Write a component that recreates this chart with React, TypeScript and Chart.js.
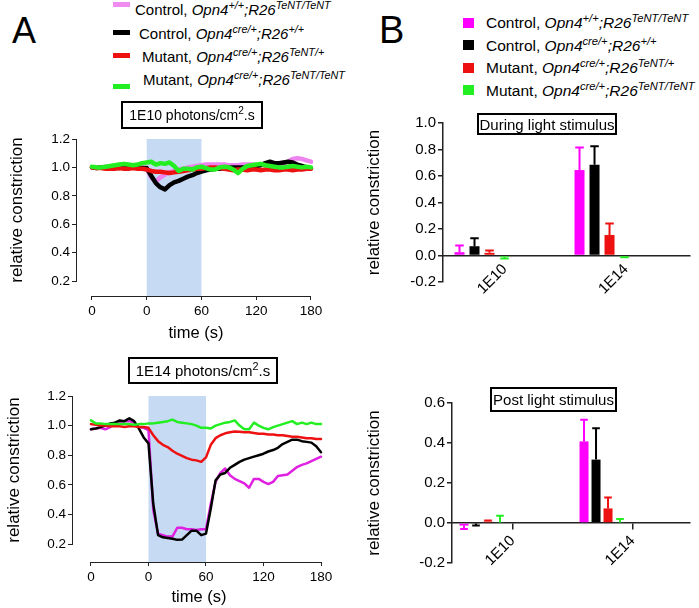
import React, { useEffect, useRef } from "react";
import { Chart, registerables } from "chart.js";

Chart.register(...registerables);

const FONT = "'Liberation Sans', Arial, Helvetica, sans-serif";
Chart.defaults.font.family = FONT;
Chart.defaults.color = "#000";

// ---------------- DATA ----------------
const seriesNames = [
  "Control, Opn4+/+;R26TeNT/TeNT",
  "Control, Opn4cre/+;R26+/+",
  "Mutant, Opn4cre/+;R26TeNT/+",
  "Mutant, Opn4cre/+;R26TeNT/TeNT",
];

const timeSec = [-60, -55, -50, -45, -40, -35, -30, -25, -20, -15, -10, -5, 0, 5, 10, 15, 20, 25, 30, 35, 40, 45, 50, 55, 60, 65, 70, 75, 80, 85, 90, 95, 100, 105, 110, 115, 120, 125, 130, 135, 140, 145, 150, 155, 160, 165, 170, 175, 180];

// 1E10 photons/cm2.s
const dim_ctrlWT = [1.0, 1.0, 1.0, 1.005, 1.0, 1.0, 1.005, 1.0, 1.0, 1.0, 1.0, 1.0, 0.99, 0.93, 0.9, 0.93, 0.95, 0.965, 0.975, 0.985, 0.99, 1.0, 1.005, 1.01, 1.015, 1.02, 1.02, 1.02, 1.02, 1.02, 1.015, 1.015, 1.015, 1.02, 1.02, 1.02, 1.015, 1.02, 1.025, 1.03, 1.03, 1.025, 1.03, 1.04, 1.06, 1.065, 1.06, 1.05, 1.04];
const dim_ctrlCre = [1.0, 0.995, 1.0, 1.0, 1.005, 1.0, 0.995, 1.0, 1.0, 1.0, 0.995, 0.995, 0.995, 0.94, 0.89, 0.86, 0.845, 0.875, 0.895, 0.905, 0.92, 0.935, 0.945, 0.96, 0.97, 0.98, 0.985, 0.99, 0.99, 0.995, 1.0, 1.0, 1.0, 1.0, 1.0, 1.005, 1.01, 1.015, 1.03, 1.04, 1.03, 1.03, 1.035, 1.04, 1.035, 1.02, 1.01, 1.0, 0.995];
const dim_mutHet = [1.0, 0.995, 0.995, 0.99, 0.99, 0.99, 0.995, 0.99, 0.99, 0.995, 0.99, 0.99, 0.985, 0.975, 0.97, 0.97, 0.965, 0.96, 0.965, 0.97, 0.975, 0.98, 0.985, 0.99, 0.99, 0.995, 1.0, 1.0, 0.995, 0.99, 0.985, 0.98, 0.985, 0.985, 0.98, 0.985, 0.985, 0.98, 0.985, 0.985, 0.98, 0.98, 0.985, 0.985, 0.98, 0.985, 0.985, 0.99, 0.99];
const dim_mutHom = [1.005, 1.0, 1.0, 1.005, 1.01, 1.015, 1.02, 1.025, 1.02, 1.015, 1.02, 1.03, 1.035, 1.04, 1.02, 1.03, 1.025, 1.035, 1.01, 0.975, 0.99, 0.99, 0.985, 1.0, 1.005, 0.995, 0.985, 0.985, 1.0, 1.005, 1.0, 0.985, 0.96, 0.99, 1.01, 1.015, 1.02, 1.025, 1.015, 1.01, 1.005, 1.0, 1.0, 1.005, 1.01, 1.005, 1.0, 1.005, 1.0];

// 1E14 photons/cm2.s
const bright_ctrlWT = [0.975, 0.98, 0.985, 0.975, 0.99, 1.02, 1.02, 1.03, 1.03, 1.02, 0.99, 0.985, 0.97, 0.43, 0.27, 0.26, 0.25, 0.25, 0.31, 0.31, 0.3, 0.3, 0.295, 0.3, 0.3, 0.47, 0.62, 0.68, 0.71, 0.665, 0.64, 0.625, 0.61, 0.58, 0.64, 0.64, 0.62, 0.605, 0.62, 0.66, 0.665, 0.67, 0.695, 0.72, 0.735, 0.745, 0.76, 0.775, 0.79];
const bright_ctrlCre = [0.975, 0.98, 0.99, 1.0, 1.015, 1.02, 1.035, 1.03, 1.05, 1.03, 0.98, 0.92, 0.88, 0.47, 0.26, 0.245, 0.24, 0.235, 0.228, 0.23, 0.26, 0.29, 0.29, 0.26, 0.27, 0.44, 0.63, 0.67, 0.68, 0.715, 0.735, 0.755, 0.77, 0.78, 0.79, 0.8, 0.81, 0.825, 0.835, 0.85, 0.875, 0.89, 0.905, 0.905, 0.895, 0.89, 0.885, 0.86, 0.82];
const bright_mutHet = [1.01, 1.005, 1.0, 1.0, 0.995, 0.995, 0.995, 0.99, 0.995, 0.995, 0.99, 0.99, 0.985, 0.935, 0.895, 0.87, 0.855, 0.83, 0.81, 0.795, 0.78, 0.77, 0.765, 0.755, 0.785, 0.87, 0.915, 0.935, 0.948, 0.955, 0.96, 0.958, 0.955, 0.955, 0.95, 0.945, 0.945, 0.94, 0.94, 0.935, 0.935, 0.93, 0.925, 0.925, 0.92, 0.915, 0.915, 0.91, 0.91];
const bright_mutHom = [1.035, 1.015, 1.015, 1.01, 1.01, 1.01, 1.01, 1.01, 1.01, 1.005, 1.01, 1.01, 1.015, 1.015, 1.02, 1.025, 1.03, 1.04, 1.025, 1.02, 1.015, 1.01, 1.0, 0.985, 0.985, 0.98, 1.0, 1.01, 1.02, 1.025, 1.035, 1.0, 0.975, 0.975, 1.02, 1.0, 0.985, 0.975, 0.99, 1.0, 1.01, 1.02, 1.03, 1.01, 1.02, 1.01, 1.02, 1.01, 1.01];

const timeTickValues = [-60, 0, 60, 120, 180];
const timeTickLabels = ["0", "0", "60", "120", "180"];
const lineYTicks = [0.2, 0.4, 0.6, 0.8, 1.0, 1.2];
const stimulusWindow = [0, 60];

// Panel B
const intensityLabels = ["1E10", "1E14"];
const intensityPos = [1, 2];
const duringYTicks = [-0.2, 0, 0.2, 0.4, 0.6, 0.8, 1.0];
const postYTicks = [-0.2, 0, 0.2, 0.4, 0.6];

const during_ctrlWT = [0.025, 0.645];
const during_ctrlCre = [0.07, 0.685];
const during_mutHet = [0.02, 0.155];
const during_mutHom = [-0.01, -0.005];
const during_ctrlWT_sem = [0.05, 0.17];
const during_ctrlCre_sem = [0.06, 0.14];
const during_mutHet_sem = [0.017, 0.087];
const during_mutHom_sem = [0.012, 0.008];

const post_ctrlWT = [-0.013, 0.408];
const post_ctrlCre = [-0.003, 0.317];
const post_mutHet = [0.007, 0.073];
const post_mutHom = [0.003, 0.003];
const post_ctrlWT_sem = [0.017, 0.108];
const post_ctrlCre_sem = [0.01, 0.157];
const post_mutHet_sem = [0.006, 0.055];
const post_mutHom_sem = [0.033, 0.017];

// ---------------- STYLE ----------------
const AXIS = "#222";
const dimColors = ["#ee82ee", "#000000", "#ee1111", "#22ee22"];
const brightColors = ["#e020e0", "#000000", "#ee1111", "#22ee22"];
const barColors = ["#ff00ff", "#000000", "#ee1111", "#22ee22"];
const legendLineColors = ["#f08cf0", "#000000", "#ee1111", "#22ee22"];

function stimulusPlugin(floor: number) {
  return {
    id: "stimulus",
    beforeDatasetsDraw(chart: any) {
      const { ctx, scales } = chart;
      const x0 = scales.x.getPixelForValue(stimulusWindow[0]);
      const x1 = scales.x.getPixelForValue(stimulusWindow[1]);
      const yTop = scales.y.getPixelForValue(lineYTicks[lineYTicks.length - 1]);
      const yBot = scales.y.getPixelForValue(floor);
      ctx.save();
      ctx.fillStyle = "rgb(198,218,243)";
      ctx.fillRect(x0, yTop, x1 - x0, yBot - yTop);
      ctx.restore();
    },
  };
}

function timeAxisPlugin(floor: number) {
  return {
    id: "timeAxis",
    afterDraw(chart: any) {
      const { ctx, scales } = chart;
      const y = Math.round(scales.y.getPixelForValue(floor)) + 0.5;
      ctx.save();
      ctx.strokeStyle = AXIS;
      ctx.lineWidth = 1;
      ctx.beginPath();
      ctx.moveTo(scales.x.getPixelForValue(timeTickValues[0]), y);
      ctx.lineTo(scales.x.getPixelForValue(timeTickValues[timeTickValues.length - 1]), y);
      ctx.stroke();
      ctx.restore();
    },
  };
}

const errorBarPlugin = {
  id: "errorBars",
  afterDatasetsDraw(chart: any) {
    const { ctx } = chart;
    const ys = chart.scales.y;
    chart.data.datasets.forEach((ds: any, di: number) => {
      const meta = chart.getDatasetMeta(di);
      meta.data.forEach((bar: any, j: number) => {
        const v = ds.data[j].y;
        const e = ds.errors[j];
        const dir = v < 0 ? -1 : 1;
        const y0 = ys.getPixelForValue(v);
        const y1 = ys.getPixelForValue(v + dir * e);
        const w = bar.width * 0.85;
        ctx.save();
        ctx.strokeStyle = ds.backgroundColor;
        ctx.lineWidth = 2;
        ctx.beginPath();
        ctx.moveTo(bar.x, y0);
        ctx.lineTo(bar.x, y1);
        ctx.moveTo(bar.x - w / 2, y1);
        ctx.lineTo(bar.x + w / 2, y1);
        ctx.stroke();
        ctx.restore();
      });
    });
  },
};

function makeLineConfig(o: any): any {
  const order = [3, 2, 1, 0];
  return {
    type: "line",
    data: {
      datasets: o.series.map((vals: number[], i: number) => ({
        label: seriesNames[i],
        data: timeSec.map((t, j) => ({ x: t, y: vals[j] })),
        borderColor: o.colors[i],
        borderWidth: o.lineWidth,
        pointRadius: 0,
        tension: 0,
        borderJoinStyle: "round",
        borderCapStyle: "round",
        fill: false,
        order: order[i],
      })),
    },
    options: {
      animation: false,
      responsive: false,
      events: [],
      layout: { padding: o.padding },
      plugins: { legend: { display: false }, tooltip: { enabled: false } },
      scales: {
        x: {
          type: "linear",
          position: { y: o.yFloor },
          min: o.xMin,
          max: o.xMax,
          afterBuildTicks: (s: any) => {
            s.ticks = timeTickValues.map((v) => ({ value: v }));
          },
          afterFit: (s: any) => {
            s.height = o.xAxisHeight;
          },
          ticks: {
            callback: (_v: any, i: number) => timeTickLabels[i],
            autoSkip: false,
            maxRotation: 0,
            font: { size: 13.5 },
            color: "#000",
            padding: 3,
          },
          grid: { display: true, drawOnChartArea: false, drawTicks: true, tickLength: 4, color: AXIS, lineWidth: 1 },
          border: { display: false },
          title: { display: true, text: "time (s)", font: { size: 16.5 }, color: "#000", padding: { top: 2, bottom: 4 } },
        },
        y: {
          type: "linear",
          position: "left",
          min: lineYTicks[0],
          max: lineYTicks[lineYTicks.length - 1],
          afterBuildTicks: (s: any) => {
            s.ticks = lineYTicks.map((v) => ({ value: v }));
          },
          afterFit: (s: any) => {
            s.width = o.yAxisWidth;
          },
          ticks: { callback: (v: any) => Number(v).toFixed(1), font: { size: 13.5 }, color: "#000", padding: 2 },
          grid: { drawOnChartArea: false, drawTicks: true, tickLength: 4, color: AXIS },
          border: { display: true, color: AXIS, width: 1 },
          title: { display: true, text: "relative constriction", font: { size: 17 }, color: "#000", padding: { top: 4, bottom: 4 } },
        },
      },
    },
    plugins: [stimulusPlugin(o.yFloor), timeAxisPlugin(o.yFloor)],
  };
}

function makeBarConfig(o: any): any {
  return {
    type: "bar",
    data: {
      datasets: o.values.map((vals: number[], i: number) => ({
        label: seriesNames[i],
        data: intensityPos.map((x, j) => ({ x, y: vals[j] })),
        backgroundColor: barColors[i],
        borderWidth: 0,
        categoryPercentage: o.catPct,
        barPercentage: o.barPct,
        errors: o.errors[i],
      })),
    },
    options: {
      animation: false,
      responsive: false,
      events: [],
      layout: { padding: o.padding },
      plugins: { legend: { display: false }, tooltip: { enabled: false } },
      scales: {
        x: {
          type: "linear",
          position: { y: 0 },
          min: o.xMin,
          max: o.xMax,
          offset: false,
          afterBuildTicks: (s: any) => {
            s.ticks = o.labelAnchors.map((v: number) => ({ value: v }));
          },
          ticks: {
            callback: (_v: any, i: number) => intensityLabels[i],
            autoSkip: false,
            minRotation: 45,
            maxRotation: 45,
            font: { size: 15 },
            color: "#000",
            padding: o.tickPadding,
          },
          grid: {
            display: true,
            offset: false,
            drawOnChartArea: false,
            drawTicks: o.tickLength > 0,
            tickLength: o.tickLength,
            color: AXIS,
            lineWidth: 1.5,
          },
          border: { display: true, color: AXIS, width: 1.5 },
        },
        y: {
          type: "linear",
          position: "left",
          min: o.yTicks[0],
          max: o.yTicks[o.yTicks.length - 1],
          afterBuildTicks: (s: any) => {
            s.ticks = o.yTicks.map((v: number) => ({ value: v }));
          },
          afterFit: (s: any) => {
            s.width = o.yAxisWidth;
          },
          ticks: { callback: (v: any) => Number(v).toFixed(1), font: { size: 15 }, color: "#000", padding: 2 },
          grid: { drawOnChartArea: false, drawTicks: true, tickLength: 5, color: AXIS, lineWidth: 1.5 },
          border: { display: true, color: AXIS, width: 1.5 },
          title: { display: true, text: "relative constriction", font: { size: 17 }, color: "#000", padding: { top: 4, bottom: 4 } },
        },
      },
    },
    plugins: [errorBarPlugin],
  };
}

function ChartCanvas({ left, top, width, height, config }: any) {
  const ref = useRef<HTMLCanvasElement>(null);
  useEffect(() => {
    const chart = new Chart(ref.current as HTMLCanvasElement, config());
    return () => chart.destroy();
  }, []);
  return (
    <canvas
      ref={ref}
      width={width}
      height={height}
      style={{ position: "absolute", left, top, width, height }}
    />
  );
}

const SUP: React.CSSProperties = {
  fontSize: "0.72em",
  position: "relative",
  top: "-0.55em",
  verticalAlign: "baseline",
  lineHeight: 0,
};

function Txt({ x, y, size, children, style }: any) {
  return (
    <div
      style={{
        position: "absolute",
        left: x,
        top: y - 0.8465 * size,
        fontSize: size,
        lineHeight: `${size}px`,
        whiteSpace: "nowrap",
        fontFamily: FONT,
        color: "#000",
        ...style,
      }}
    >
      {children}
    </div>
  );
}

function Genotype({ i }: { i: number }) {
  const g = [
    ["Control", "+/+", "TeNT/TeNT"],
    ["Control", "cre/+", "+/+"],
    ["Mutant", "cre/+", "TeNT/+"],
    ["Mutant", "cre/+", "TeNT/TeNT"],
  ][i];
  return (
    <span>
      {g[0]},{" "}
      <i>
        Opn4<sup style={SUP}>{g[1]}</sup>;R26<sup style={SUP}>{g[2]}</sup>
      </i>
    </span>
  );
}

function TitleBox({ x, y, w, h, size, children }: any) {
  return (
    <div
      style={{
        position: "absolute",
        left: x,
        top: y,
        width: w,
        height: h,
        boxSizing: "border-box",
        border: "2px solid #000",
        display: "flex",
        alignItems: "center",
        justifyContent: "center",
        fontSize: size,
        fontFamily: FONT,
        whiteSpace: "nowrap",
        lineHeight: 1,
        color: "#000",
      }}
    >
      {children}
    </div>
  );
}

const legendA = { swatchX: 113, swatchW: 17, swatchH: 5, swatchCenters: [4.5, 32, 55, 86], baselines: [15, 38.5, 62, 85], textX: [135, 139, 142, 143] };
const legendB = { sqX: 463, sqW: 11, sqH: 10, centers: [23, 45, 68, 90], textX: 486, baselines: [28.5, 51, 73.5, 96] };

export default function App() {
  return (
    <div
      style={{
        position: "absolute",
        left: 0,
        top: 0,
        width: 699,
        height: 608,
        overflow: "hidden",
        background: "#fff",
        fontFamily: FONT,
      }}
    >
      <ChartCanvas
        left={3}
        top={120}
        width={330}
        height={230}
        config={() =>
          makeLineConfig({
            series: [dim_ctrlWT, dim_ctrlCre, dim_mutHet, dim_mutHom],
            colors: dimColors,
            lineWidth: 4.5,
            xMin: -77.5,
            xMax: 185.5,
            yFloor: 0.0944,
            yAxisWidth: 73,
            xAxisHeight: 51,
            padding: { top: 19, right: 17, bottom: 69, left: 0 },
          })
        }
      />
      <ChartCanvas
        left={0}
        top={380}
        width={340}
        height={228}
        config={() =>
          makeLineConfig({
            series: [bright_ctrlWT, bright_ctrlCre, bright_mutHet, bright_mutHom],
            colors: brightColors,
            lineWidth: 2.5,
            xMin: -79.8,
            xMax: 185.2,
            yFloor: 0.0784,
            yAxisWidth: 72,
            xAxisHeight: 49,
            padding: { top: 16, right: 14, bottom: 64, left: 0 },
          })
        }
      />
      <ChartCanvas
        left={360}
        top={100}
        width={339}
        height={200}
        config={() =>
          makeBarConfig({
            values: [during_ctrlWT, during_ctrlCre, during_mutHet, during_mutHom],
            errors: [during_ctrlWT_sem, during_ctrlCre_sem, during_mutHet_sem, during_mutHom_sem],
            yTicks: duringYTicks,
            xMin: 0.675,
            xMax: 2.733,
            labelAnchors: [1.19, 2.2],
            catPct: 0.5,
            barPct: 0.667,
            yAxisWidth: 83,
            tickLength: 0,
            tickPadding: 5,
            padding: { top: 23, right: 9, bottom: 18, left: 0 },
          })
        }
      />
      <ChartCanvas
        left={360}
        top={385}
        width={339}
        height={200}
        config={() =>
          makeBarConfig({
            values: [post_ctrlWT, post_ctrlCre, post_mutHet, post_mutHom],
            errors: [post_ctrlWT_sem, post_ctrlCre_sem, post_mutHet_sem, post_mutHom_sem],
            yTicks: postYTicks,
            xMin: 0.75,
            xMax: 2.733,
            labelAnchors: [1.255, 2.255],
            catPct: 0.4,
            barPct: 0.75,
            yAxisWidth: 92,
            tickLength: 6,
            tickPadding: 3,
            padding: { top: 18, right: 9, bottom: 22, left: 0 },
          })
        }
      />

      <Txt x={12} y={43} size={36}>A</Txt>
      <Txt x={379} y={43} size={38}>B</Txt>

      {legendA.baselines.map((b, i) => (
        <React.Fragment key={"la" + i}>
          <div
            style={{
              position: "absolute",
              left: legendA.swatchX,
              top: legendA.swatchCenters[i] - legendA.swatchH / 2,
              width: legendA.swatchW,
              height: legendA.swatchH,
              background: legendLineColors[i],
            }}
          />
          <Txt x={legendA.textX[i]} y={b} size={15}>
            <Genotype i={i} />
          </Txt>
        </React.Fragment>
      ))}

      {legendB.baselines.map((b, i) => (
        <React.Fragment key={"lb" + i}>
          <div
            style={{
              position: "absolute",
              left: legendB.sqX,
              top: legendB.centers[i] - legendB.sqH / 2,
              width: legendB.sqW,
              height: legendB.sqH,
              background: barColors[i],
            }}
          />
          <Txt x={legendB.textX} y={b} size={15.5}>
            <Genotype i={i} />
          </Txt>
        </React.Fragment>
      ))}

      <TitleBox x={121} y={101} w={142} h={28} size={14}>
        <span>
          1E10 photons/cm<sup style={SUP}>2</sup>.s
        </span>
      </TitleBox>
      <TitleBox x={128} y={357} w={150} h={27} size={15}>
        <span>
          1E14 photons/cm<sup style={SUP}>2</sup>.s
        </span>
      </TitleBox>
      <TitleBox x={477} y={113} w={140} h={22} size={15}>
        During light stimulus
      </TitleBox>
      <TitleBox x={490} y={387} w={127} h={25} size={15}>
        Post light stimulus
      </TitleBox>
    </div>
  );
}
